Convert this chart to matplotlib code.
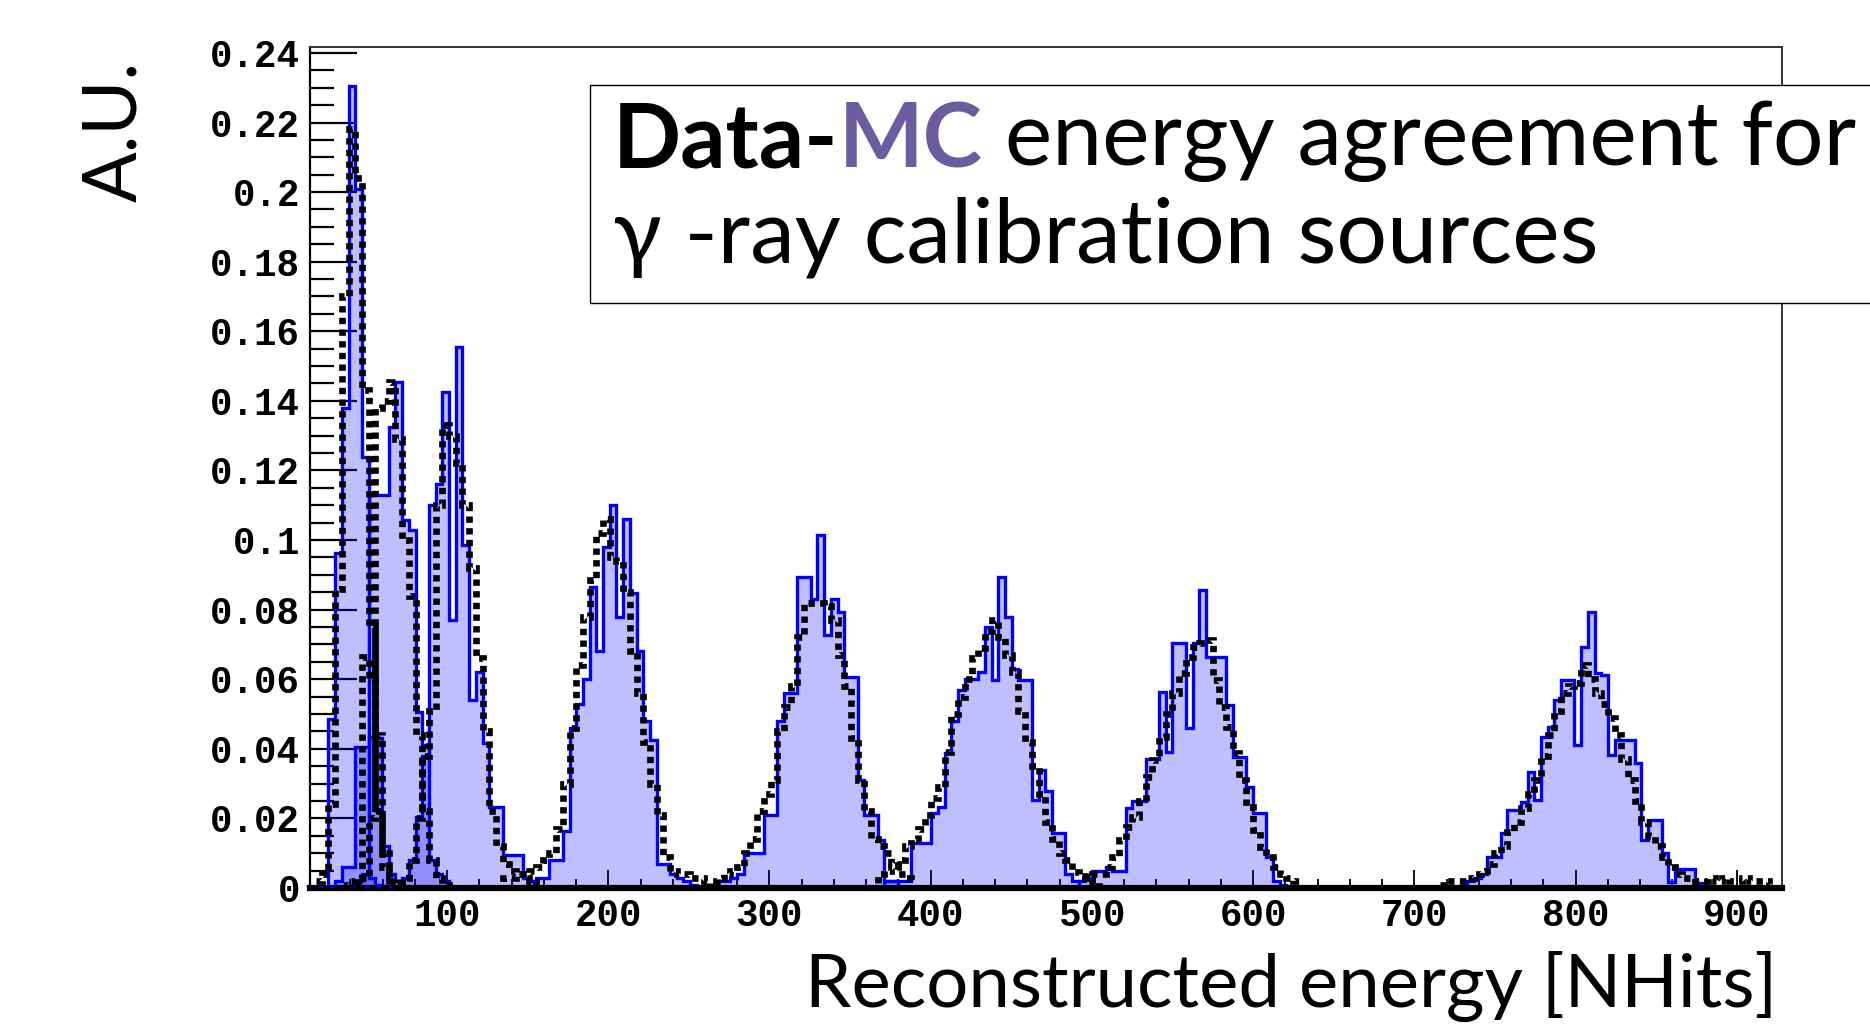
import numpy as np
import matplotlib.pyplot as plt
from matplotlib.patches import Rectangle
from matplotlib.text import Annotation
from matplotlib.ticker import MultipleLocator

# ------------------------------------------------------
# histogram binning (NHits)
BIN_LO = 1.5
BIN_W = 4.155
N_BINS = 224

# Data histograms: first bin index + contents (one per gamma source)
data_a_start = 6
data_a = [0.0487, 0.0962, 0.138, 0.2305, 0.201, 0.124, 0.003, 0.001]
data_b_start = 7
data_b = [0.002, 0.006, 0.006, 0.0406, 0.0406, 0.0435, 0.043, 0.012, 0.004, 0.002]
data_c_start = 10
data_c = [0.002, 0.004, 0.113, 0.113, 0.113, 0.1325, 0.1455, 0.1057, 0.1029,
          0.0507, 0.041, 0.008, 0.004, 0.002]
data_d_start = 17
data_d = [0.003, 0.008, 0.0205, 0.038, 0.110, 0.116, 0.1426, 0.077, 0.1556, 0.0986,
          0.054, 0.062, 0.0416, 0.0234, 0.0234, 0.0095, 0.0095, 0.0095, 0.003, 0.002]
data_e_start = 36
data_e = [0.002, 0.003, 0.003, 0.008, 0.008, 0.0165, 0.046, 0.053, 0.060, 0.0866,
          0.068, 0.098, 0.110, 0.078, 0.106, 0.0847, 0.068, 0.048, 0.0425, 0.007,
          0.007, 0.004, 0.003, 0.002, 0.001]
data_f_start = 64
data_f = [0.002, 0.002, 0.003, 0.004, 0.010, 0.010, 0.010, 0.021, 0.021, 0.048,
          0.056, 0.056, 0.0895, 0.0895, 0.083, 0.1014, 0.0727, 0.083, 0.0794, 0.0607,
          0.0607, 0.031, 0.021, 0.021, 0.0138, 0.002, 0.002]
data_g_start = 89
data_g = [0.002, 0.002, 0.002, 0.002, 0.013, 0.013, 0.013, 0.0215, 0.0234, 0.0387,
          0.048, 0.057, 0.060, 0.060, 0.062, 0.075, 0.0598, 0.0895, 0.078, 0.063,
          0.0598, 0.0598, 0.0253, 0.034, 0.028, 0.0157, 0.0157, 0.004, 0.002]
data_h_start = 118
data_h = [0.002, 0.003, 0.005, 0.005, 0.006, 0.005, 0.005, 0.023, 0.025, 0.025,
          0.037, 0.037, 0.0564, 0.039, 0.0705, 0.0705, 0.046, 0.0705, 0.0856, 0.0665,
          0.0665, 0.0665, 0.0526, 0.0377, 0.0377, 0.029, 0.0215, 0.0215, 0.009, 0.002,
          0.001]
data_i_start = 175
data_i = [0.001, 0.002, 0.003, 0.004, 0.009, 0.009, 0.0157, 0.0224, 0.0224, 0.0248,
          0.0334, 0.0253, 0.0435, 0.0464, 0.054, 0.0598, 0.0598, 0.0411, 0.0693, 0.0794,
          0.0617, 0.0612, 0.0382, 0.0425, 0.0425, 0.0425, 0.0358, 0.0138, 0.0195, 0.0195,
          0.010, 0.0018, 0.0056, 0.0056, 0.0056, 0.0015]

# MC histograms (drawn dotted)
mc_a_start = 4
mc_a = [0.002, 0.004, 0.024, 0.086, 0.170, 0.218, 0.204, 0.143, 0.075, 0.022, 0.006, 0.002]
mc_b_start = 8
mc_b = [0.001, 0.002, 0.003, 0.0665, 0.060, 0.044, 0.010, 0.003, 0.001]
mc_c_start = 10
mc_c = [0.001, 0.003, 0.020, 0.138, 0.140, 0.1455, 0.129, 0.100, 0.084, 0.044,
        0.022, 0.008, 0.003, 0.001]
mc_d_start = 17
mc_d = [0.003, 0.008, 0.020, 0.038, 0.051, 0.110, 0.133, 0.130, 0.122, 0.110,
        0.092, 0.066, 0.045, 0.022, 0.012, 0.007, 0.005, 0.004, 0.003, 0.002]
mc_e_start = 32
mc_e = [0.003, 0.003, 0.004, 0.004, 0.005, 0.006, 0.008, 0.010, 0.017, 0.030,
        0.046, 0.064, 0.078, 0.0885, 0.102, 0.106, 0.095, 0.094, 0.085, 0.068,
        0.056, 0.042, 0.030, 0.021, 0.009, 0.005, 0.004, 0.004, 0.003, 0.003, 0.002]
mc_f_start = 63
mc_f = [0.002, 0.003, 0.004, 0.005, 0.006, 0.010, 0.014, 0.022, 0.027, 0.031,
        0.045, 0.052, 0.058, 0.072, 0.082, 0.082, 0.082, 0.081, 0.077, 0.067,
        0.058, 0.043, 0.031, 0.022, 0.014, 0.012, 0.010, 0.007, 0.004, 0.003]
mc_g_start = 88
mc_g = [0.004, 0.005, 0.006, 0.008, 0.012, 0.014, 0.017, 0.021, 0.026, 0.029,
        0.039, 0.050, 0.055, 0.060, 0.066, 0.069, 0.074, 0.077, 0.072, 0.067,
        0.062, 0.051, 0.042, 0.035, 0.027, 0.019, 0.014, 0.010, 0.008, 0.0045,
        0.0035, 0.003, 0.002]
mc_h_start = 119
mc_h = [0.003, 0.004, 0.004, 0.006, 0.009, 0.0138, 0.0176, 0.0205, 0.025, 0.032,
        0.0368, 0.0435, 0.050, 0.056, 0.0617, 0.0665, 0.0693, 0.0703, 0.0713, 0.0598,
        0.052, 0.0464, 0.0387, 0.031, 0.0234, 0.0167, 0.0119, 0.009, 0.006, 0.004,
        0.003, 0.002]
mc_i_start = 172
mc_i = [0.001, 0.002, 0.002, 0.002, 0.003, 0.004, 0.005, 0.007, 0.010, 0.012,
        0.016, 0.019, 0.023, 0.027, 0.031, 0.038, 0.044, 0.051, 0.056, 0.058,
        0.059, 0.064, 0.060, 0.056, 0.053, 0.049, 0.044, 0.037, 0.031, 0.025,
        0.019, 0.015, 0.012, 0.009, 0.006, 0.004, 0.003, 0.003, 0.002, 0.002,
        0.003, 0.002, 0.003, 0.002, 0.002, 0.003, 0.002, 0.002, 0.002, 0.001]

x_ticks = [100, 200, 300, 400, 500, 600, 700, 800, 900]
y_ticks = [0, 0.02, 0.04, 0.06, 0.08, 0.1, 0.12, 0.14, 0.16, 0.18, 0.2, 0.22, 0.24]
y_tick_labels = ['0', '0.02', '0.04', '0.06', '0.08', '0.1', '0.12', '0.14',
                 '0.16', '0.18', '0.2', '0.22', '0.24']

title_bold = "Data-"
title_mc = "MC"
title_rest = " energy agreement for"
title_line2 = "\u03b3 -ray calibration sources"
x_label = "Reconstructed energy [NHits]"
y_label = "A.U."

TEXT_FONT = ['Lato', 'DejaVu Sans']
TICK_FONT = 'Liberation Mono'
MC_PURPLE = '#6B5CA0'
# ------------------------------------------------------


def full_hist(start, vals):
    h = np.zeros(N_BINS)
    h[start:start + len(vals)] = vals
    return h


W, H = 1870, 1024
fig = plt.figure(figsize=(W / 100, H / 100), dpi=100)
ax = fig.add_axes([310 / W, 1 - 888 / H, 1472 / W, 841 / H])

edges = BIN_LO + BIN_W * np.arange(N_BINS + 1)

data_sets = [(data_a_start, data_a), (data_b_start, data_b), (data_c_start, data_c),
             (data_d_start, data_d), (data_e_start, data_e), (data_f_start, data_f),
             (data_g_start, data_g), (data_h_start, data_h), (data_i_start, data_i)]
mc_sets = [(mc_a_start, mc_a), (mc_b_start, mc_b), (mc_c_start, mc_c),
           (mc_d_start, mc_d), (mc_e_start, mc_e), (mc_f_start, mc_f),
           (mc_g_start, mc_g), (mc_h_start, mc_h), (mc_i_start, mc_i)]

for start, vals in data_sets:
    h = full_hist(start, vals)
    ax.stairs(h, edges, fill=True, facecolor=(0, 0, 1, 0.25), edgecolor='none', zorder=2)
for start, vals in data_sets:
    h = full_hist(start, vals)
    ax.stairs(h, edges, color='#0000ff', lw=2.4, zorder=3)
for start, vals in mc_sets:
    h = full_hist(start, vals)
    ax.stairs(h, edges, color='black', lw=4.8, linestyle=(0, (0.95, 0.8)),
              capstyle='butt', zorder=4)

ax.set_xlim(15, 928)
ax.set_ylim(0, 0.2417)

ax.set_xticks(x_ticks)
ax.set_xticklabels([str(v) for v in x_ticks])
ax.xaxis.set_minor_locator(MultipleLocator(20))
ax.set_yticks(y_ticks)
ax.set_yticklabels(y_tick_labels)
ax.yaxis.set_minor_locator(MultipleLocator(0.005))

ax.tick_params(axis='y', which='major', direction='in', length=34, width=1.6, pad=7)
ax.tick_params(axis='y', which='minor', direction='in', length=17, width=1.6)
ax.tick_params(axis='x', which='major', direction='in', length=13, width=1.3, pad=7)
ax.tick_params(axis='x', which='minor', direction='in', length=6.5, width=1.3)
for lab in ax.get_xticklabels() + ax.get_yticklabels():
    lab.set_fontfamily(TICK_FONT)
    lab.set_fontweight('bold')
    lab.set_fontsize(27)

ax.spines['left'].set_linewidth(1.6)
ax.spines['bottom'].set_linewidth(4.5)
ax.spines['top'].set_linewidth(1.4)
ax.spines['right'].set_linewidth(1.4)
ax.spines['top'].set_color('#333333')
ax.spines['right'].set_color('#333333')

# axis titles
fig.text(115 / W, 1 - 131 / H, y_label, rotation=90, ha='center', va='center',
         fontsize=54, family=TEXT_FONT)
xl = fig.text(1777 / W, 1 - 1007 / H, x_label, ha='right', va='baseline',
              fontsize=56, family=TEXT_FONT)

# title box
box = Rectangle((590 / W, 1 - 303 / H), 0.8, 218 / H, transform=fig.transFigure,
                facecolor='white', edgecolor='black', lw=1.0, zorder=5)
fig.add_artist(box)

t1 = fig.text(613 / W, 1 - 167 / H, title_bold, fontsize=62, fontweight='bold',
              family=TEXT_FONT, va='baseline', ha='left', zorder=6)
t2 = Annotation(title_mc, xy=(1, 0), xycoords=t1, va='bottom', ha='left',
                fontsize=62, fontweight='bold', color=MC_PURPLE, family=TEXT_FONT,
                zorder=6)
fig.add_artist(t2)
t3 = Annotation(title_rest, xy=(1, 0), xycoords=t2, va='bottom', ha='left',
                fontsize=62, family=TEXT_FONT, zorder=6)
fig.add_artist(t3)
t4 = fig.text(613 / W, 1 - 262 / H, title_line2, fontsize=62, family=TEXT_FONT,
              va='baseline', ha='left', zorder=6)

# fit the text widths to the slide
r = fig.canvas.get_renderer()
line_w = t3.get_window_extent(r).x1 - t1.get_window_extent(r).x0
s = 1245 / line_w
for t in (t1, t2, t3, t4):
    t.set_fontsize(t.get_fontsize() * s)
xl_w = xl.get_window_extent(r).width
xl.set_fontsize(xl.get_fontsize() * 972 / xl_w)

fig.savefig('out.png', dpi=100)
